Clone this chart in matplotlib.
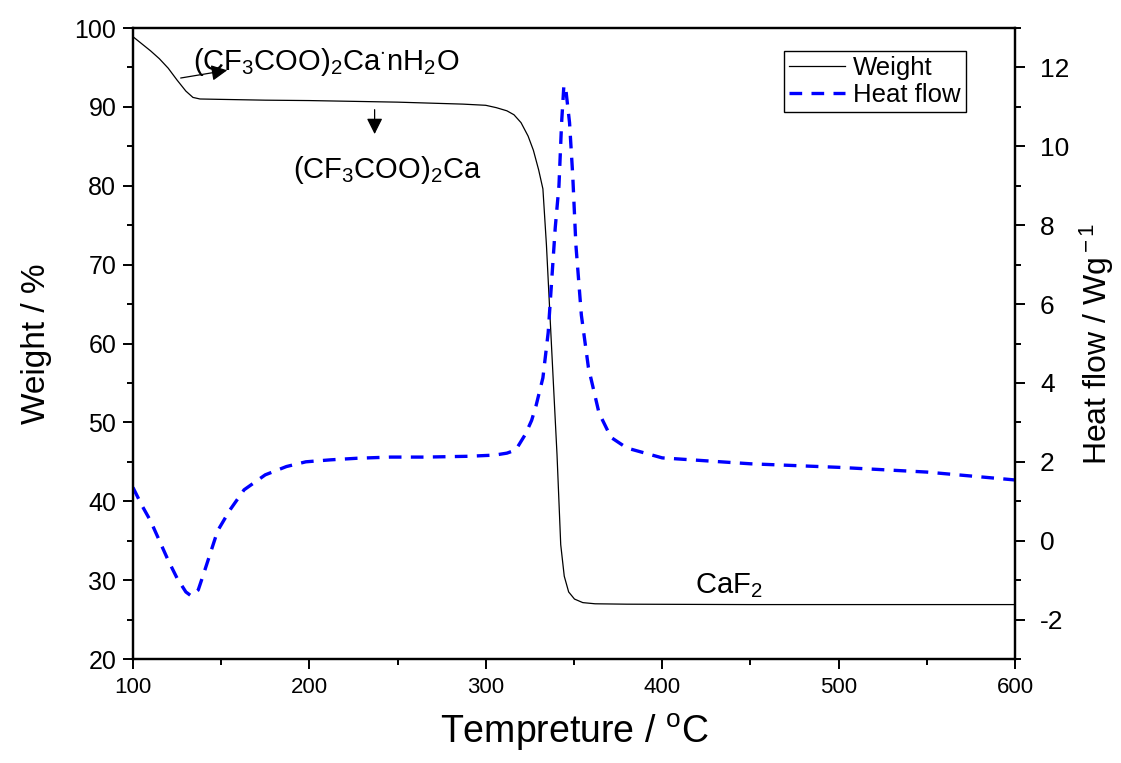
import matplotlib
matplotlib.use("Agg")
import matplotlib.pyplot as plt
from matplotlib.ticker import MultipleLocator

plt.rcParams['font.family'] = ['Liberation Sans', 'DejaVu Sans']
plt.rcParams['mathtext.fontset'] = 'custom'
plt.rcParams['mathtext.rm'] = 'Liberation Sans'
plt.rcParams['mathtext.it'] = 'Liberation Sans:italic'
plt.rcParams['axes.unicode_minus'] = False

#%% data read from the TG / DSC curves
temp_w = [100, 105, 110, 115, 120, 125, 130, 134, 138, 150, 175, 200, 250,
          287, 300, 306, 312, 316, 320, 324, 327, 330, 332.4, 334.4, 336.4,
          338.4, 340.4, 342.5, 344.5, 347, 350.3, 355, 362, 380, 450, 600]
weight = [98.9, 98.0, 97.1, 96.1, 94.9, 93.4, 92.0, 91.2, 91.0, 90.95, 90.85,
          90.8, 90.6, 90.35, 90.2, 89.9, 89.5, 89.0, 88.0, 86.3, 84.5, 82.0,
          79.6, 72.5, 63.6, 54.7, 45.9, 34.5, 30.5, 28.5, 27.6, 27.15, 27.0,
          26.95, 26.9, 26.9]

temp_h = [100, 105, 110, 115, 120, 125, 130, 133, 137, 140, 144, 148, 155,
          163, 175, 187, 198, 212, 227, 246, 266, 290, 305, 312, 317, 322.5,
          326, 328.5, 332.4, 335.4, 337.4, 339.4, 341.5, 343, 344.3, 345.5,
          347.5, 349.3, 351.1, 354.2, 358.2, 364.2, 371, 380, 400, 450, 500,
          550, 600]
heat = [1.35, 0.9, 0.5, 0.0, -0.5, -0.95, -1.3, -1.4, -1.25, -0.85, -0.3,
        0.25, 0.78, 1.29, 1.67, 1.88, 2.0, 2.05, 2.09, 2.12, 2.12, 2.14, 2.17,
        2.22, 2.3, 2.7, 3.05, 3.42, 4.13, 5.28, 6.61, 7.94, 9.0, 10.6, 11.55,
        11.4, 10.6, 9.27, 7.5, 5.72, 4.39, 3.24, 2.62, 2.35, 2.1, 1.95, 1.86,
        1.74, 1.54]

#%% figure
fig = plt.figure(figsize=(11.21, 7.63), dpi=100)
ax = fig.add_axes([0.1186, 0.1363, 0.7868, 0.827])
ax2 = ax.twinx()

l1, = ax.plot(temp_w, weight, color='black', lw=0.9)
l2, = ax2.plot(temp_h, heat, color='blue', lw=2.4, ls='--', dashes=(3.8, 2.8))

ax.set_xlim(100, 600)
ax.set_ylim(20, 100)
ax2.set_ylim(-3, 13)

ax.xaxis.set_major_locator(MultipleLocator(100))
ax.xaxis.set_minor_locator(MultipleLocator(50))
ax.yaxis.set_major_locator(MultipleLocator(10))
ax.yaxis.set_minor_locator(MultipleLocator(5))
ax2.yaxis.set_major_locator(MultipleLocator(2))
ax2.yaxis.set_minor_locator(MultipleLocator(1))

for a in (ax, ax2):
    for s in a.spines.values():
        s.set_linewidth(1.6)
ax.tick_params(which='major', direction='out', length=7, width=1.4,
               labelsize=18, pad=5, top=False)
ax.tick_params(which='minor', direction='out', length=4, width=1.4, top=False)
ax.tick_params(axis='x', labelsize=16, pad=6)
ax2.tick_params(which='major', direction='out', length=7, width=1.4,
                labelsize=19, pad=11)
ax2.tick_params(which='minor', direction='out', length=4, width=1.4)

ax.set_xlabel("Tempreture / $^{\\rm o}$C", fontsize=27, labelpad=10)
ax.set_ylabel("Weight / %", fontsize=24, labelpad=16)
ax2.set_ylabel("Heat flow / Wg$^{\\rm -1}$", fontsize=23, labelpad=6)

# annotations
ax.text(134, 94.7, "(CF$_3$COO)$_2$Ca$^{\\cdot}$nH$_2$O", fontsize=21)
ax.annotate("", xy=(155, 94.7), xytext=(125.5, 93.6),
            arrowprops=dict(arrowstyle='-|>', color='black', lw=0.9,
                            mutation_scale=24))
ax.text(190.5, 81.0, "(CF$_3$COO)$_2$Ca", fontsize=21)
ax.annotate("", xy=(237, 86.2), xytext=(237, 90.0),
            arrowprops=dict(arrowstyle='-|>', color='black', lw=0.9,
                            mutation_scale=24))
ax.text(418.5, 28.4, "CaF$_2$", fontsize=21)

leg = ax.legend([l1, l2], ["Weight", "Heat flow"], loc='upper right',
                bbox_to_anchor=(0.9444, 0.9635), borderaxespad=0,
                fontsize=18.5, fancybox=False, framealpha=1, edgecolor='black',
                handlelength=2.2, handletextpad=0.3, labelspacing=0.1,
                borderpad=0.2)
leg.get_frame().set_linewidth(1.0)

fig.savefig("out.png", dpi=100)
